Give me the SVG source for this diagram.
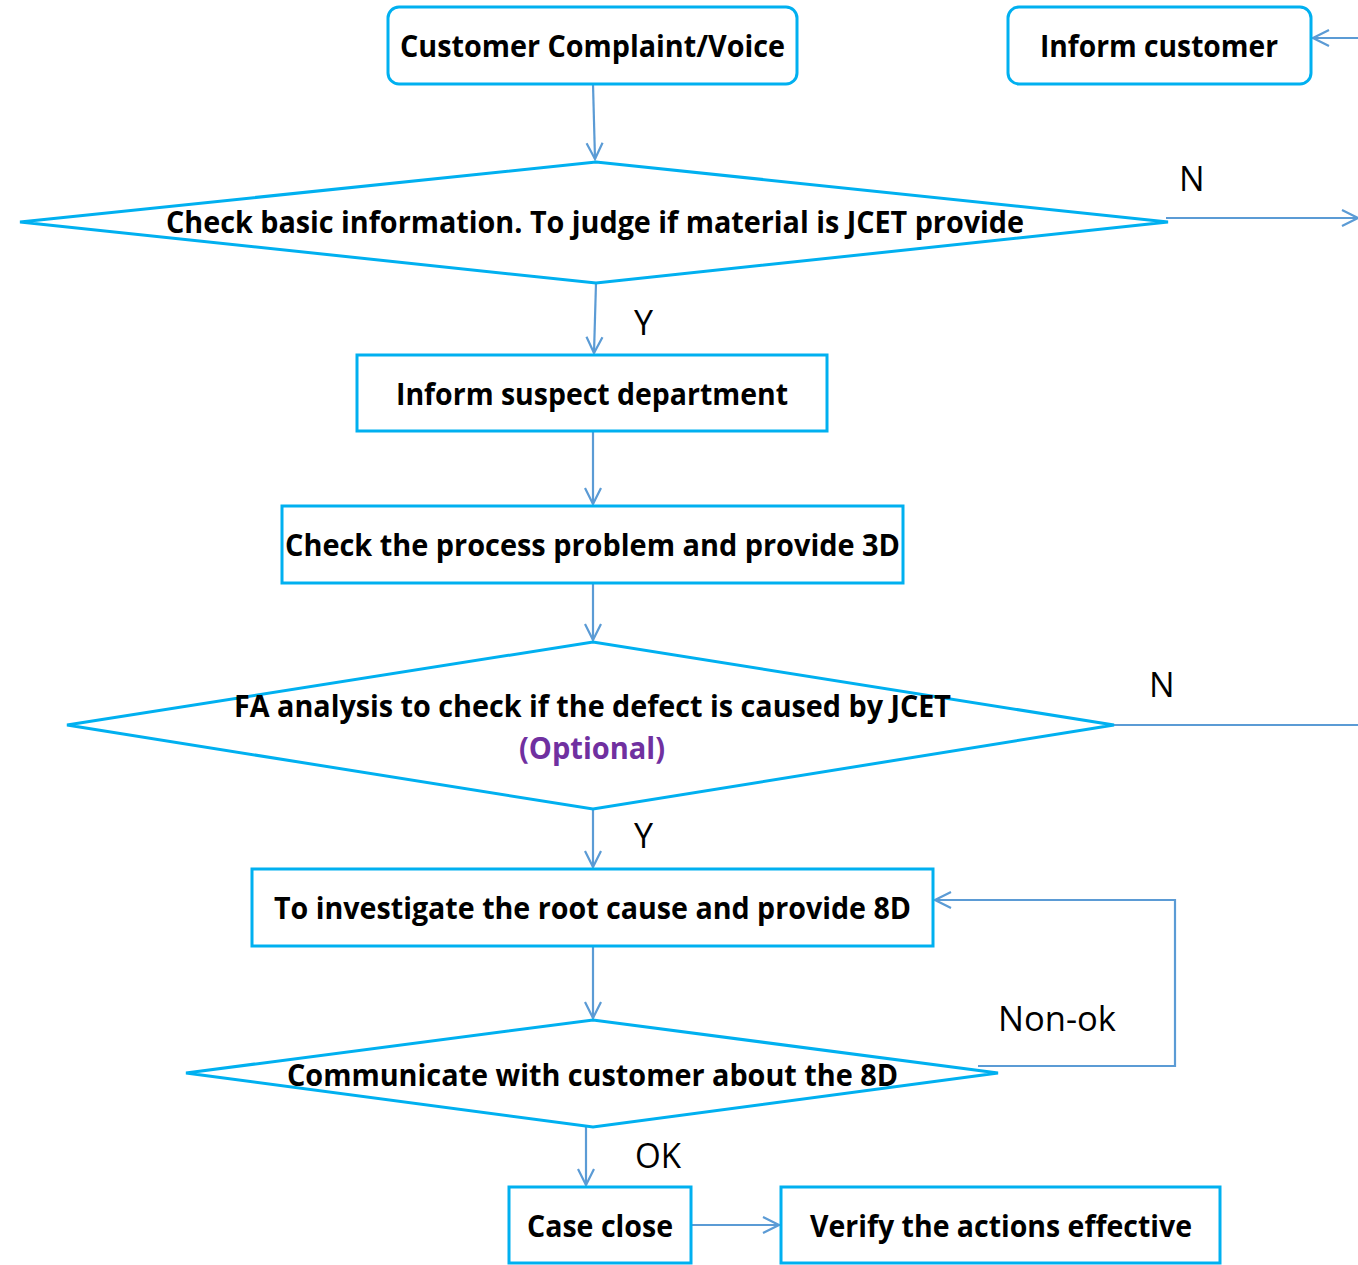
<svg xmlns="http://www.w3.org/2000/svg" width="1358" height="1265" viewBox="0 0 1358 1265">
<style>
.box{fill:#fff;stroke:#00B0F0;stroke-width:3}
.t{font-family:"Open Sans","Liberation Sans",sans-serif;font-weight:bold;font-size:30px;fill:#000}
.lbl{font-family:"Open Sans","Liberation Sans",sans-serif;font-size:34px;fill:#000}
.c{fill:none;stroke:#5B9BD5;stroke-width:2.2}
</style>
<defs>
<marker id="ah" viewBox="0 0 20 20" refX="18" refY="10" markerWidth="20" markerHeight="20" markerUnits="userSpaceOnUse" orient="auto">
<path d="M2,2 L18,10 L2,18" fill="none" stroke="#5B9BD5" stroke-width="2.2"/>
</marker>
</defs>
<rect width="1358" height="1265" fill="#fff"/>
<g id="connectors">
<line class="c" x1="593" y1="84" x2="595" y2="159" marker-end="url(#ah)"/>
<line class="c" x1="1358" y1="38" x2="1313" y2="38" marker-end="url(#ah)"/>
<line class="c" x1="1166" y1="218" x2="1358" y2="218" marker-end="url(#ah)"/>
<line class="c" x1="596" y1="283" x2="594" y2="353" marker-end="url(#ah)"/>
<line class="c" x1="593" y1="431" x2="593" y2="504" marker-end="url(#ah)"/>
<line class="c" x1="593" y1="583" x2="593" y2="640" marker-end="url(#ah)"/>
<line class="c" x1="1112" y1="725" x2="1358" y2="725"/>
<line class="c" x1="593" y1="809" x2="593" y2="867" marker-end="url(#ah)"/>
<line class="c" x1="593" y1="946" x2="593" y2="1018" marker-end="url(#ah)"/>
<polyline class="c" points="978,1066 1175,1066 1175,900 935,900" marker-end="url(#ah)"/>
<line class="c" x1="586" y1="1127" x2="586" y2="1185" marker-end="url(#ah)"/>
<line class="c" x1="691" y1="1225" x2="779" y2="1225" marker-end="url(#ah)"/>
<text class="lbl" x="1179" y="191">N</text>
<text class="lbl" x="634" y="335">Y</text>
<text class="lbl" x="1149" y="697">N</text>
<text class="lbl" x="634" y="848">Y</text>
<text class="lbl" x="998" y="1031" textLength="118" lengthAdjust="spacingAndGlyphs">Non-ok</text>
<text class="lbl" x="635" y="1168" textLength="46" lengthAdjust="spacingAndGlyphs">OK</text>
</g>
<g id="n-complaint">
<rect class="box" x="388" y="7" width="409" height="77" rx="11"/>
<text class="t" x="400" y="57" textLength="385" lengthAdjust="spacingAndGlyphs">Customer Complaint/Voice</text>
</g>
<g id="n-inform-customer">
<rect class="box" x="1008" y="7" width="303" height="77" rx="11"/>
<text class="t" x="1040" y="57" textLength="238" lengthAdjust="spacingAndGlyphs">Inform customer</text>
</g>
<g id="n-check-basic">
<polygon class="box" points="20,222 596,162 1168,222 596,283"/>
<text class="t" x="166" y="233" textLength="858" lengthAdjust="spacingAndGlyphs">Check basic information. To judge if material is JCET provide</text>
</g>
<g id="n-inform-suspect">
<rect class="box" x="357" y="355" width="470" height="76"/>
<text class="t" x="396" y="405" textLength="392" lengthAdjust="spacingAndGlyphs">Inform suspect department</text>
</g>
<g id="n-check-process">
<rect class="box" x="282" y="506" width="621" height="77"/>
<text class="t" x="285" y="556" textLength="615" lengthAdjust="spacingAndGlyphs">Check the process problem and provide 3D</text>
</g>
<g id="n-fa">
<polygon class="box" points="67,725 593,642 1114,725 593,809"/>
<text class="t" x="234" y="717" textLength="717" lengthAdjust="spacingAndGlyphs">FA analysis to check if the defect is caused by JCET</text>
<text class="t" x="519" y="759" textLength="146" lengthAdjust="spacingAndGlyphs" style="fill:#7030A0">(Optional)</text>
</g>
<g id="n-investigate">
<rect class="box" x="252" y="869" width="681" height="77"/>
<text class="t" x="274" y="919" textLength="637" lengthAdjust="spacingAndGlyphs">To investigate the root cause and provide 8D</text>
</g>
<g id="n-communicate">
<polygon class="box" points="186,1073 593,1020 998,1073 593,1127"/>
<text class="t" x="287" y="1086" textLength="611" lengthAdjust="spacingAndGlyphs">Communicate with customer about the 8D</text>
</g>
<g id="n-case-close">
<rect class="box" x="509" y="1187" width="182" height="76"/>
<text class="t" x="527" y="1237" textLength="146" lengthAdjust="spacingAndGlyphs">Case close</text>
</g>
<g id="n-verify">
<rect class="box" x="781" y="1187" width="439" height="76"/>
<text class="t" x="810" y="1237" textLength="382" lengthAdjust="spacingAndGlyphs">Verify the actions effective</text>
</g>
</svg>
